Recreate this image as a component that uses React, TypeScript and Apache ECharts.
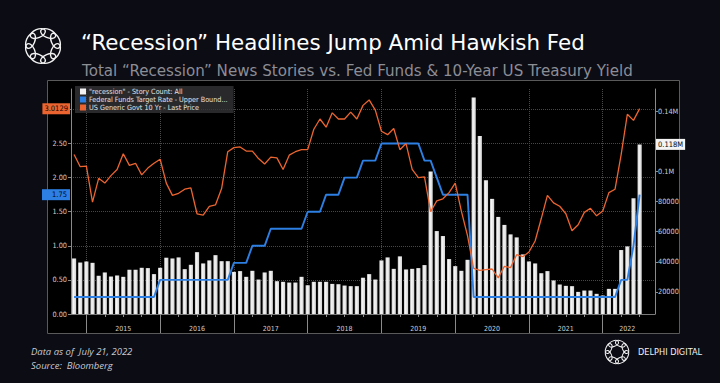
import React, { useEffect, useRef } from 'react';
import * as echarts from 'echarts';

// ---- data (month-end values, Oct 2014 .. Jun 2022) ----
const recessionStories = [
  42200, 39500, 40200,
  39300, 30700, 32900, 30200, 30900, 30000, 34700, 34700, 36000, 35800, 31800, 36000,
  42700, 42200, 42900, 35100, 38000, 46400, 38900, 40900, 44400, 40400, 40400, 33300,
  33800, 30000, 34000, 28200, 32900, 34000, 27100, 26700, 26200, 26200, 30000, 24400,
  26700, 26700, 26700, 25300, 25100, 24200, 23800, 23800, 29400, 31800, 28200, 40900,
  42900, 35300, 43600, 34900, 35300, 35800, 37800, 100000, 60400, 57100, 41800, 37100,
  34000, 41300, 149100, 123500, 94200, 81800, 69800, 64500, 58200, 56200, 44900, 40200,
  38900, 32400, 33800, 27600, 24900, 24000, 23800, 20000, 20900, 20900, 18700, 17600,
  22000, 22000, 47800, 50200, 82200, 118000,
];

const fedFundsUpper = [
  0.25, 0.25, 0.25,
  0.25, 0.25, 0.25, 0.25, 0.25, 0.25, 0.25, 0.25, 0.25, 0.25, 0.25, 0.5,
  0.5, 0.5, 0.5, 0.5, 0.5, 0.5, 0.5, 0.5, 0.5, 0.5, 0.5, 0.75,
  0.75, 0.75, 1.0, 1.0, 1.0, 1.25, 1.25, 1.25, 1.25, 1.25, 1.25, 1.5,
  1.5, 1.5, 1.75, 1.75, 1.75, 2.0, 2.0, 2.0, 2.25, 2.25, 2.25, 2.5,
  2.5, 2.5, 2.5, 2.5, 2.5, 2.5, 2.25, 2.25, 2.0, 1.75, 1.75, 1.75,
  1.75, 1.75, 0.25, 0.25, 0.25, 0.25, 0.25, 0.25, 0.25, 0.25, 0.25, 0.25,
  0.25, 0.25, 0.25, 0.25, 0.25, 0.25, 0.25, 0.25, 0.25, 0.25, 0.25, 0.25,
  0.25, 0.25, 0.5, 0.5, 1.0, 1.75,
];

const tenYearYield = [
  2.34, 2.16, 2.17,
  1.64, 1.99, 1.92, 2.03, 2.12, 2.35, 2.18, 2.21, 2.04, 2.14, 2.21, 2.27,
  1.92, 1.74, 1.77, 1.83, 1.85, 1.47, 1.45, 1.58, 1.6, 1.84, 2.38, 2.44,
  2.45, 2.39, 2.39, 2.28, 2.2, 2.3, 2.29, 2.12, 2.33, 2.38, 2.41, 2.41,
  2.71, 2.86, 2.74, 2.95, 2.86, 2.86, 2.96, 2.86, 3.06, 3.14, 2.99, 2.68,
  2.63, 2.72, 2.41, 2.5, 2.12, 2.0, 2.01, 1.5, 1.66, 1.69, 1.78, 1.92,
  1.51, 1.15, 0.67, 0.64, 0.65, 0.66, 0.53, 0.7, 0.68, 0.87, 0.84, 0.91,
  1.07, 1.4, 1.74, 1.63, 1.58, 1.47, 1.22, 1.31, 1.49, 1.55, 1.44, 1.51,
  1.78, 1.83, 2.34, 2.93, 2.84, 3.0129,
];

const yearLabels = ['2015', '2016', '2017', '2018', '2019', '2020', '2021', '2022'];
const yearLabelMonths = ['2015-06', '2016-06', '2017-06', '2018-06', '2019-06', '2020-06', '2021-06', '2022-04'];
const separatorMonths = ['2014-12', '2015-12', '2016-12', '2017-12', '2018-12', '2019-12', '2020-12', '2021-12'];
const leftTicks = [0, 0.5, 1, 1.5, 2, 2.5, 3];
const leftLabels = [0, 0.5, 1, 1.5, 2, 2.5];
const rightTicks = [20000, 40000, 60000, 80000, 100000, 120000, 140000];
const rightLabels = [20000, 40000, 60000, 80000, 100000, 140000];

const SERIES_BAR = '"recession" - Story Count: All';
const SERIES_FED = 'Federal Funds Target Rate - Upper Bound...';
const SERIES_TEN = 'US Generic Govt 10 Yr - Last Price';

// categories: Oct 2014 .. Aug 2022 (two trailing empty months)
const categories: string[] = [];
{
  let y = 2014;
  let m = 10;
  while (y < 2022 || (y === 2022 && m <= 8)) {
    categories.push(`${y}-${String(m).padStart(2, '0')}`);
    m++;
    if (m > 12) { m = 1; y++; }
  }
}

const NARROW = "'Liberation Sans Narrow', 'DejaVu Sans Condensed', 'Arial Narrow', 'Roboto Condensed', 'Liberation Sans', sans-serif";
const ORANGE = '#ec6530';
const BLUE = '#2d7fe3';
const HIDDEN_LINE = { color: 'rgba(0,0,0,0)', width: 0 };

function logoRings(cx: number, cy: number, r: number, rx: number, ry: number, lw: number) {
  const children: any[] = [];
  for (let k = 0; k < 8; k++) {
    const th = (k * Math.PI) / 4 + Math.PI / 8;
    children.push({
      type: 'ellipse',
      x: cx + r * Math.cos(th),
      y: cy - r * Math.sin(th),
      rotation: th + Math.PI / 2,
      shape: { cx: 0, cy: 0, rx, ry },
      style: { fill: 'none', stroke: '#f2f2f2', lineWidth: lw },
      silent: true,
    });
  }
  return { type: 'group', children };
}

function tagLabel(text: string, bg: string, pos: 'start' | 'end', pad: number[]) {
  return {
    show: true,
    position: pos,
    distance: 1,
    formatter: text,
    backgroundColor: bg,
    color: '#050505',
    fontSize: 7.5,
    padding: pad,
    fontFamily: NARROW,
    opacity: 1,
  };
}

export default function App() {
  const ref = useRef<HTMLDivElement>(null);

  useEffect(() => {
    if (!ref.current) return;
    const chart = echarts.init(ref.current, null, { renderer: 'svg' });
    const last = recessionStories.length - 1;
    const barGradient = new echarts.graphic.LinearGradient(0, 0, 1, 0, [
      { offset: 0, color: '#c4c4c4' },
      { offset: 0.35, color: '#f6f6f6' },
      { offset: 1, color: '#d2d2d2' },
    ]);

    const option: any = {
      animation: false,
      backgroundColor: '#0b0c14',
      textStyle: { fontFamily: NARROW },
      title: [
        {
          text: '“Recession” Headlines Jump Amid Hawkish Fed',
          left: 81,
          top: 32,
          padding: 0,
          textStyle: { color: '#ffffff', fontSize: 21.4, fontWeight: 'normal', fontFamily: 'DejaVu Sans' },
        },
        {
          text: 'Total “Recession” News Stories vs. Fed Funds & 10-Year US Treasury Yield',
          left: 82,
          top: 63,
          padding: 0,
          textStyle: { color: '#8d8d94', fontSize: 15.1, fontWeight: 'normal', fontFamily: 'DejaVu Sans' },
        },
      ],
      legend: {
        orient: 'vertical',
        left: 75,
        top: 86,
        itemWidth: 6,
        itemHeight: 6,
        itemGap: 1,
        padding: [2, 6, 2, 5],
        backgroundColor: 'rgba(52,52,56,0.78)',
        icon: 'rect',
        selectedMode: false,
        textStyle: { color: '#e4e4e4', fontSize: 7.2, fontFamily: NARROW, padding: [0, 0, 0, -2] },
        data: [
          { name: SERIES_BAR, itemStyle: { color: '#f2f2f2' } },
          { name: SERIES_FED, itemStyle: { color: BLUE } },
          { name: SERIES_TEN, itemStyle: { color: ORANGE } },
        ],
      },
      grid: { left: 71, right: 65, top: 89, bottom: 69, containLabel: false },
      xAxis: [
        {
          type: 'category',
          data: categories,
          position: 'bottom',
          boundaryGap: true,
          axisLine: { show: true, lineStyle: { color: '#7a7a7a', width: 1 } },
          axisTick: {
            show: true,
            alignWithLabel: true,
            length: 3,
            interval: (_i: number, v: string) => /-(03|06|09|12)$/.test(v),
            lineStyle: { color: '#8a8a8a' },
          },
          axisLabel: {
            interval: (_i: number, v: string) => yearLabelMonths.includes(v),
            formatter: (v: string) => yearLabels[yearLabelMonths.indexOf(v)] ?? '',
            color: '#cfcfcf',
            fontSize: 7,
            margin: 11,
            fontFamily: NARROW,
          },
          splitLine: { show: false },
        },
        {
          type: 'category',
          data: categories,
          position: 'bottom',
          boundaryGap: true,
          axisLine: { show: false },
          axisLabel: { show: false },
          axisTick: {
            show: true,
            alignWithLabel: true,
            length: 19,
            interval: (_i: number, v: string) => separatorMonths.includes(v),
            lineStyle: { color: '#8a8a8a' },
          },
          splitLine: {
            show: true,
            alignWithLabel: true,
            interval: (_i: number, v: string) => separatorMonths.includes(v),
            lineStyle: { color: '#4a4a4a', type: 'dotted', width: 1 },
          },
        },
      ],
      yAxis: [
        {
          type: 'value',
          position: 'left',
          min: 0,
          max: 3.3,
          axisLine: { show: true, lineStyle: { color: '#8a8a8a' } },
          axisTick: { show: true, length: 3, customValues: leftTicks, lineStyle: { color: '#8a8a8a' } },
          axisLabel: {
            customValues: leftLabels,
            formatter: (v: number) => v.toFixed(2),
            color: '#d0d0d0',
            fontSize: 7.3,
            margin: 4,
            fontFamily: NARROW,
          },
          splitLine: { show: true, lineStyle: { color: '#474747', type: 'dotted', width: 1 } },
        },
        {
          type: 'value',
          position: 'right',
          min: 5300,
          max: 154800,
          axisLine: { show: true, lineStyle: { color: '#8a8a8a' } },
          axisTick: { show: true, length: 3, customValues: rightTicks, lineStyle: { color: '#8a8a8a' } },
          axisLabel: {
            customValues: rightLabels,
            formatter: (v: number) => (v >= 100000 ? `${v / 1e6}M` : String(v)),
            color: '#d0d0d0',
            fontSize: 7.3,
            margin: 3,
            fontFamily: NARROW,
          },
          splitLine: { show: false },
        },
      ],
      series: [
        {
          name: SERIES_BAR,
          type: 'bar',
          xAxisIndex: 0,
          yAxisIndex: 1,
          data: recessionStories,
          barCategoryGap: '32%',
          clip: true,
          itemStyle: { color: barGradient },
          z: 2,
          markLine: {
            silent: true,
            symbol: 'none',
            lineStyle: HIDDEN_LINE,
            data: [
              {
                yAxis: recessionStories[last],
                lineStyle: HIDDEN_LINE,
                label: tagLabel(`${(recessionStories[last] / 1e6).toFixed(3)}M`, '#f4f4f4', 'end', [2, 2, 1, 2]),
              },
            ],
          },
        },
        {
          name: SERIES_FED,
          type: 'line',
          xAxisIndex: 0,
          yAxisIndex: 0,
          data: fedFundsUpper,
          symbol: 'none',
          lineStyle: { color: BLUE, width: 1.9 },
          itemStyle: { color: BLUE },
          z: 3,
          markLine: {
            silent: true,
            symbol: 'none',
            lineStyle: HIDDEN_LINE,
            data: [
              {
                yAxis: fedFundsUpper[last],
                lineStyle: HIDDEN_LINE,
                label: tagLabel(fedFundsUpper[last].toFixed(2), BLUE, 'start', [2, 3, 1, 10]),
              },
            ],
          },
        },
        {
          name: SERIES_TEN,
          type: 'line',
          xAxisIndex: 0,
          yAxisIndex: 0,
          data: tenYearYield,
          symbol: 'none',
          lineStyle: { color: ORANGE, width: 1.3 },
          itemStyle: { color: ORANGE },
          z: 4,
          markLine: {
            silent: true,
            symbol: 'none',
            lineStyle: HIDDEN_LINE,
            data: [
              {
                yAxis: tenYearYield[last],
                lineStyle: HIDDEN_LINE,
                label: tagLabel(tenYearYield[last].toFixed(4), ORANGE, 'start', [2, 2, 1, 2]),
              },
            ],
          },
        },
      ],
      graphic: [
        {
          type: 'rect',
          z: -100,
          silent: true,
          shape: { x: 47.5, y: 80.5, width: 632, height: 253 },
          style: { fill: '#000000', stroke: '#5a5a5a', lineWidth: 1 },
        },
        logoRings(43, 46, 13.5, 8, 4.2, 1.4),
        logoRings(617, 352, 9, 5.2, 2.8, 1),
        {
          type: 'text',
          x: 638,
          y: 352,
          silent: true,
          style: {
            text: 'DELPHI DIGITAL',
            fill: '#f0f0f0',
            fontSize: 8.2,
            fontWeight: 'normal',
            fontFamily: 'DejaVu Sans',
            verticalAlign: 'middle',
          },
        },
        {
          type: 'text',
          x: 31,
          y: 351,
          silent: true,
          style: {
            text: 'Data as of  July 21, 2022',
            fill: '#c8c8ce',
            fontSize: 9.5,
            fontStyle: 'italic',
            fontFamily: 'Open Sans',
            verticalAlign: 'middle',
          },
        },
        {
          type: 'text',
          x: 31,
          y: 365,
          silent: true,
          style: {
            text: 'Source:  Bloomberg',
            fill: '#c8c8ce',
            fontSize: 9.5,
            fontStyle: 'italic',
            fontFamily: 'Open Sans',
            verticalAlign: 'middle',
          },
        },
      ],
    };

    chart.setOption(option);
    return () => {
      chart.dispose();
    };
  }, []);

  return (
    <div
      ref={ref}
      style={{ position: 'fixed', left: 0, top: 0, width: 720, height: 383, background: '#0b0c14' }}
    />
  );
}
